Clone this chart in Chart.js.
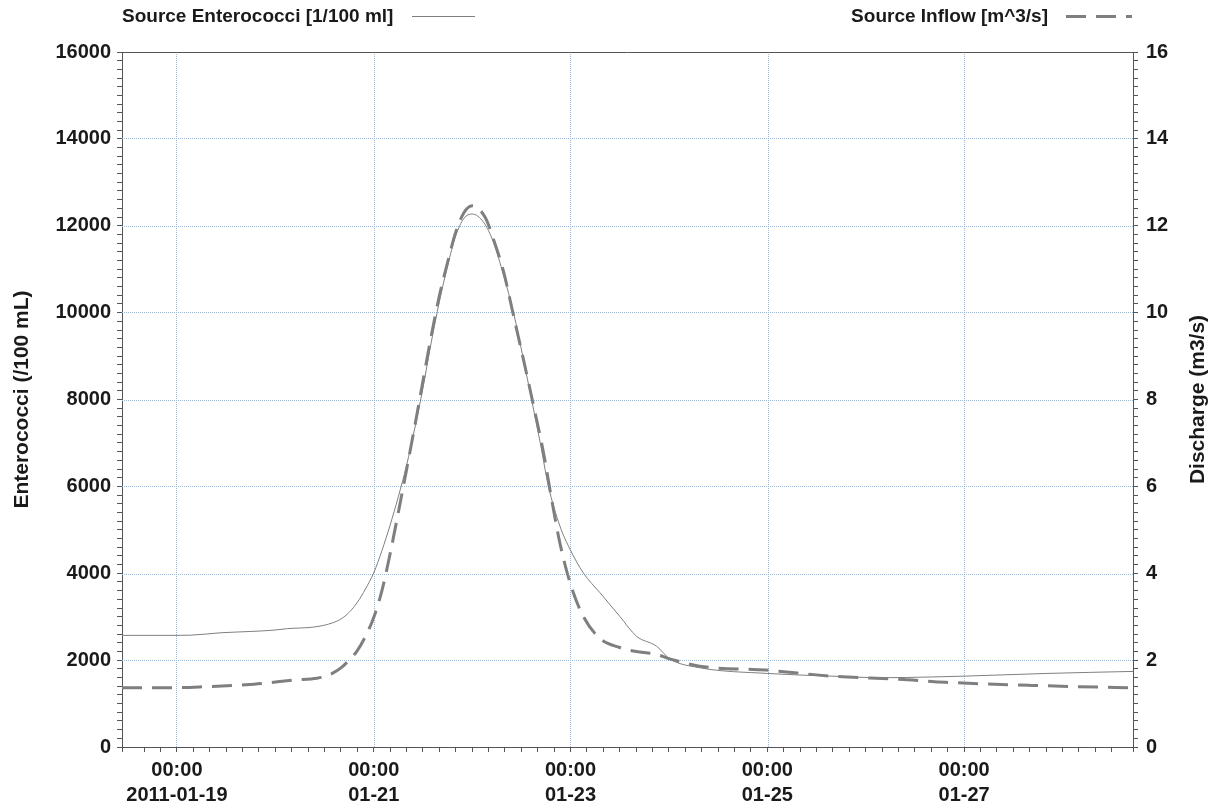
<!DOCTYPE html>
<html>
<head>
<meta charset="utf-8">
<script src="https://cdn.jsdelivr.net/npm/chart.js@4.4.1/dist/chart.umd.min.js"></script>
<style>
  html, body { margin: 0; padding: 0; background: #fff; }
  #wrap { position: relative; width: 1212px; height: 805px; }
</style>
</head>
<body>
<div id="wrap"><canvas id="chart"></canvas></div>
<script>
// x = hours since 2011-01-19 00:00
const X_MIN = -13.4;
const X_MAX = 233.2;

// Source Enterococci [1/100 ml]
const entHours  = [-13.4, -1.5, 3.4, 10.7, 18, 23.6, 27, 33.3, 36, 38, 40, 42, 44, 46, 48,
                   50, 52, 54, 56, 58, 60, 62, 64, 66, 68, 70, 72, 74.8, 77.2,
                   79.7, 82.1, 84.5, 86.5, 88.6, 90.6, 93.4, 95.9, 99.1, 103.2, 108, 112.1, 117,
                   120.2, 127.5, 144, 160, 172, 184, 192, 212, 233.2];
const entValues = [2570, 2570, 2575, 2630, 2660, 2690, 2725, 2760, 2805, 2860, 2945, 3100, 3330, 3640, 4010,
                   4520, 5110, 5760, 6480, 7330, 8260, 9300, 10250, 11070, 11770, 12170, 12270, 12080, 11620,
                   10850, 10000, 8930, 8000, 7010, 6010, 5090, 4550, 4010, 3550, 3010, 2550, 2320,
                   2030, 1825, 1693, 1630, 1595, 1612, 1631, 1693, 1740];

// Source Inflow [m^3/s]
const flowHours  = [-13.4, -1.5, 6.6, 18.8, 28.5, 34.2, 36, 38, 40, 42, 44, 46, 48, 50, 52, 54,
                    56, 58, 60, 62, 64, 66, 68, 70, 72, 75.2, 77.2, 79.7, 82.1, 84.5, 87,
                    89.4, 91.4, 93.4, 95.9, 99.1, 103.2, 108, 111.3, 117, 120.2, 127.5, 143.7,
                    159.9, 176.2, 187.5, 207.8, 233.2];
const flowValues = [1.364, 1.364, 1.387, 1.447, 1.539, 1.585, 1.62, 1.70, 1.82, 2.0, 2.22, 2.55, 2.98, 3.6, 4.45, 5.4,
                    6.38, 7.38, 8.42, 9.45, 10.38, 11.15, 11.85, 12.3, 12.46, 12.19, 11.69, 10.93, 9.93, 8.93, 7.85,
                    6.78, 5.70, 4.70, 3.78, 3.01, 2.50, 2.29, 2.21, 2.13, 2.03, 1.86, 1.77,
                    1.63, 1.56, 1.49, 1.42, 1.36];

const xTickHours  = [0, 48, 96, 144, 192];
const xTickLabels = [['00:00', '2011-01-19'], ['00:00', '01-21'], ['00:00', '01-23'],
                     ['00:00', '01-25'], ['00:00', '01-27']];
const leftTicks  = [0, 2000, 4000, 6000, 8000, 10000, 12000, 14000, 16000];
const rightTicks = [0, 2, 4, 6, 8, 10, 12, 14, 16];

const FONT = "'Liberation Sans', Arial, sans-serif";
const TEXT = '#1a1a1a';
const AXIS = '#555';
const GRID = '#86bef3';
const LINE = '#7f7f7f';

const isMajor = (list, v) => list.some(t => Math.abs(t - v) < 1e-6);

// gepunktete Hilfslinien, Punkte auf geraden Pixeln
const dotGrid = {
  id: 'dotGrid',
  beforeDatasetsDraw(chart) {
    const { ctx, chartArea: a, scales } = chart;
    const even = p => Math.round(p / 2) * 2;
    const top = even(a.top), left = even(a.left);
    ctx.save();
    ctx.strokeStyle = GRID;
    ctx.lineWidth = 1;
    ctx.setLineDash([1, 1]);
    xTickHours.forEach(h => {
      const px = even(scales.x.getPixelForValue(h)) + 0.5;
      ctx.beginPath();
      ctx.moveTo(px, top);
      ctx.lineTo(px, a.bottom);
      ctx.stroke();
    });
    leftTicks.slice(1, -1).forEach(v => {
      const py = even(scales.y.getPixelForValue(v)) + 0.5;
      ctx.beginPath();
      ctx.moveTo(left, py);
      ctx.lineTo(a.right, py);
      ctx.stroke();
    });
    ctx.restore();
  }
};

// ── Rahmen, Legende, Achsentitel ──
const decor = {
  id: 'decor',
  afterDraw(chart) {
    const { ctx, chartArea: a } = chart;
    ctx.save();
    ctx.strokeStyle = AXIS;
    ctx.lineWidth = 1;
    ctx.beginPath();
    ctx.moveTo(a.left, Math.round(a.top) + 0.5);
    ctx.lineTo(a.right, Math.round(a.top) + 0.5);
    ctx.stroke();

    ctx.fillStyle = TEXT;
    ctx.font = `bold 19px ${FONT}`;
    ctx.textBaseline = 'middle';
    ctx.textAlign = 'left';
    ctx.fillText('Source Enterococci [1/100 ml]', 122, 17);
    ctx.textAlign = 'right';
    ctx.fillText('Source Inflow [m^3/s]', 1048, 17);

    ctx.strokeStyle = LINE;
    ctx.lineWidth = 1;
    ctx.beginPath();
    ctx.moveTo(412, 16.5);
    ctx.lineTo(475, 16.5);
    ctx.stroke();
    ctx.lineWidth = 3;
    ctx.setLineDash([20, 10]);
    ctx.beginPath();
    ctx.moveTo(1066, 16.5);
    ctx.lineTo(1132, 16.5);
    ctx.stroke();
    ctx.setLineDash([]);

    const cy = (a.top + a.bottom) / 2;
    ctx.textAlign = 'center';
    ctx.font = `bold 21px ${FONT}`;
    ctx.translate(22, cy);
    ctx.rotate(-Math.PI / 2);
    ctx.fillText('Enterococci (/100 mL)', 0, 0);
    ctx.setTransform(1, 0, 0, 1, 0, 0);
    ctx.translate(1198, cy);
    ctx.rotate(-Math.PI / 2);
    ctx.fillText('Discharge (m3/s)', 0, 0);
    ctx.restore();
  }
};

new Chart(document.getElementById('chart'), {
  type: 'line',
  data: {
    datasets: [
      {
        label: 'Source Enterococci [1/100 ml]',
        data: entHours.map((h, i) => ({ x: h, y: entValues[i] })),
        yAxisID: 'y',
        borderColor: LINE,
        borderWidth: 1,
        pointRadius: 0,
        cubicInterpolationMode: 'monotone',
        fill: false,
      },
      {
        label: 'Source Inflow [m^3/s]',
        data: flowHours.map((h, i) => ({ x: h, y: flowValues[i] })),
        yAxisID: 'y1',
        borderColor: LINE,
        borderWidth: 3,
        borderDash: [20, 10],
        pointRadius: 0,
        cubicInterpolationMode: 'monotone',
        fill: false,
      }
    ]
  },
  options: {
    responsive: true,
    maintainAspectRatio: false,
    animation: false,
    layout: { padding: { top: 52, left: 0, right: 0, bottom: 0 } },
    plugins: { legend: { display: false }, tooltip: { enabled: false } },
    scales: {
      x: {
        type: 'linear',
        min: X_MIN, max: X_MAX,
        afterFit: s => { s.height = 58; },
        border: { color: AXIS, width: 1 },
        grid: { drawOnChartArea: false, color: AXIS, tickColor: AXIS, tickLength: 5 },
        ticks: {
          stepSize: 4, autoSkip: false, maxRotation: 0, padding: 6,
          color: TEXT, font: { family: FONT, size: 20, weight: 'bold', lineHeight: 1.25 },
          callback: v => {
            const i = xTickHours.findIndex(t => Math.abs(t - v) < 1e-6);
            return i >= 0 ? xTickLabels[i] : '';
          }
        }
      },
      y: {
        position: 'left',
        min: 0, max: 16000,
        afterFit: s => { s.width = 122; },
        border: { color: AXIS, width: 1 },
        grid: { drawOnChartArea: false, color: AXIS, tickColor: AXIS, tickLength: 5 },
        ticks: {
          stepSize: 200, autoSkip: false, padding: 6,
          color: TEXT, font: { family: FONT, size: 20, weight: 'bold' },
          callback: v => isMajor(leftTicks, v) ? String(Math.round(v)) : ''
        }
      },
      y1: {
        position: 'right',
        min: 0, max: 16,
        afterFit: s => { s.width = 79; },
        border: { color: AXIS, width: 1 },
        grid: { drawOnChartArea: false, color: AXIS, tickColor: AXIS, tickLength: 5 },
        ticks: {
          stepSize: 0.2, autoSkip: false, padding: 8,
          color: TEXT, font: { family: FONT, size: 20, weight: 'bold' },
          callback: v => isMajor(rightTicks, v) ? String(Math.round(v)) : ''
        }
      }
    }
  },
  plugins: [dotGrid, decor]
});
</script>
</body>
</html>
